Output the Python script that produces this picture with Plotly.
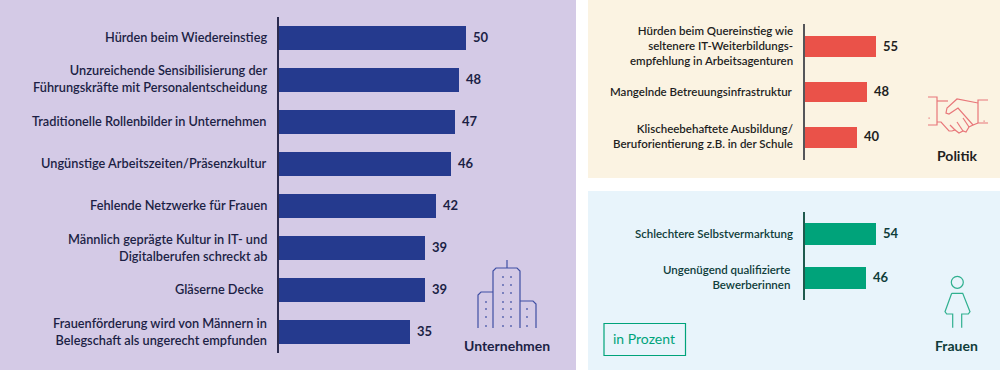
import plotly.graph_objects as go

W, H = 1000, 370
FONT = "Lato"

cats_firm = ["Hürden beim Wiedereinstieg",
             "Unzureichende Sensibilisierung der<br>Führungskräfte mit Personalentscheidung",
             "Traditionelle Rollenbilder in Unternehmen",
             "Ungünstige Arbeitszeiten/Präsenzkultur",
             "Fehlende Netzwerke für Frauen",
             "Männlich geprägte Kultur in IT- und<br>Digitalberufen schreckt ab",
             "Gläserne Decke\u00a0",
             "Frauenförderung wird von Männern in<br>Belegschaft als ungerecht empfunden"]
vals_firm = [50, 48, 47, 46, 42, 39, 39, 35]

cats_pol = ["Hürden beim Quereinstieg wie<br>seltenere IT-Weiterbildungs-<br>empfehlung in Arbeitsagenturen",
            "Mangelnde Betreuungsinfrastruktur",
            "Klischeebehaftete Ausbildung/<br>Beruforientierung z.B. in der Schule"]
vals_pol = [55, 48, 40]

cats_women = ["Schlechtere Selbstvermarktung",
              "Ungenügend qualifizierte\u00a0<br>Bewerberinnen\u00a0"]
vals_women = [54, 46]

TEXT = "#1c1f45"
NAVY = "#253a8e"
RED = "#ea5249"
GREEN = "#00a37a"
DKGREEN = "#0f3d3a"


def px(x):
    return x / W


def py(y):
    return 1 - y / H


def poly(points, color, width=1.2, closed=False):
    d = "M" + " L".join(f"{px(x):.5f},{py(y):.5f}" for x, y in points)
    if closed:
        d += " Z"
    return dict(type="path", xref="paper", yref="paper", path=d,
                line=dict(color=color, width=width), layer="above")


def rect(x0, y0, x1, y1, fill, line=None, lw=0):
    return dict(type="rect", xref="paper", yref="paper", x0=px(x0), x1=px(x1),
                y0=py(y1), y1=py(y0), fillcolor=fill,
                line=dict(color=line or fill, width=lw), layer="below")


fig = go.Figure()
shapes = [rect(0, 0, 576, 370, "#d4cae6"),
          rect(588, 0, 1000, 178, "#fbf3e2"),
          rect(588, 191, 1000, 370, "#e8f4fb")]
annotations = []

panels = [
    ("", "y", cats_firm, vals_firm, NAVY, TEXT, 279, 576, 17, 353, 3.74, 0.55, "#2b2b4f", 12.75, 13),
    ("2", "y2", cats_pol, vals_pol, RED, "#1f1f1f", 805, 1000, 24, 160, 1.295, 0.46, "#55565a", 11.5, 13),
    ("3", "y3", cats_women, vals_women, GREEN, DKGREEN, 805, 1000, 212, 300, 1.32, 0.52, "#1f5a4e", 11.5, 13),
]
layout_axes = {}
for suf, yname, cats, vals, color, tcol, x0, x1, y0, y1, scale, bw, axcol, fs, vs in panels:
    fig.add_trace(go.Bar(
        y=cats, x=vals, orientation="h", xaxis="x" + suf, yaxis=yname,
        marker=dict(color=color, line=dict(width=0)), width=bw,
        hoverinfo="skip", showlegend=False))
    layout_axes["xaxis" + suf] = dict(
        domain=[px(x0), px(x1)], range=[0, (x1 - x0) / scale], visible=False,
        anchor=yname, fixedrange=True)
    layout_axes["yaxis" + suf] = dict(
        domain=[py(y1), py(y0)], anchor="x" + suf, autorange="reversed",
        showline=True, linecolor=axcol, linewidth=1.5, ticks="", showgrid=False,
        showticklabels=False, zeroline=False, fixedrange=True)
    for c, v in zip(cats, vals):
        annotations.append(dict(
            xref="x" + suf, yref=yname, x=0, y=c, text=c, showarrow=False,
            xanchor="right", yanchor="middle", align="right", xshift=-10, yshift=1,
            font=dict(family=FONT, size=fs, color=tcol, weight=600)))
        annotations.append(dict(
            xref="x" + suf, yref=yname, x=v, y=c, text=str(v), showarrow=False,
            xanchor="left", yanchor="middle", xshift=5, yshift=1,
            font=dict(family=FONT, size=vs, color=tcol, weight=700)))

# Building icon
IC = "#3f4fa3"
shapes += [
    poly([(478, 328), (478, 295), (481, 292), (493, 292)], IC),
    poly([(493, 328), (493, 271), (496, 268), (517, 268), (520, 271), (520, 328)], IC),
    poly([(520, 301), (533, 301), (536, 304), (536, 328)], IC),
    poly([(507, 268), (507, 260)], IC),
]
rows = (277, 285, 293, 302, 309, 317, 326)
for x, ys in [(486, rows[3:]), (503, rows), (511, rows), (527, rows[4:])]:
    for y in ys:
        shapes.append(rect(x - .8, y - .8, x + .8, y + .8, IC))

# Handshake icon
HC = "#e8777a"
shapes += [
    poly([(928, 97), (937, 97), (937, 125), (928, 125)], HC),
    poly([(988, 100), (978, 100), (978, 123), (988, 123)], HC),
    poly([(937, 101), (948, 101)], HC),
    poly([(978, 103), (957, 99), (947, 108), (946, 113), (949, 114), (958, 108), (973, 125), (978, 123)], HC),
    poly([(937, 122), (941, 122), (949, 131), (952, 131), (955, 130), (959, 133), (963, 131), (966, 132), (969, 127), (973, 125)], HC),
    poly([(950, 125), (955, 130)], HC),
    poly([(957, 122), (963, 131)], HC),
    poly([(963, 118), (969, 127)], HC),
    rect(928.5, 117.5, 929.7, 118.7, HC),
    rect(983.5, 120.5, 984.7, 121.7, HC),
]

# Woman icon
WC = "#2fb08f"
shapes += [
    dict(type="circle", xref="paper", yref="paper", x0=px(951.3), x1=px(963.3),
         y0=py(288.3), y1=py(276.3), line=dict(color=WC, width=1.2), layer="above"),
    poly([(951.7, 293.3), (962.7, 293.3), (970, 311.7), (968.3, 314), (961.7, 314), (961.7, 327.7)], WC),
    poly([(951.7, 293.3), (945, 311.7), (946.7, 314), (952.7, 314), (952.7, 327.7)], WC),
    rect(604, 323.5, 685.5, 355.5, "rgba(0,0,0,0)", GREEN, 1.2),
]


def label(x, y, t, size, color, weight=700, anchor="center"):
    return dict(xref="paper", yref="paper", x=px(x), y=py(y), text=t, showarrow=False,
                xanchor=anchor, yanchor="middle",
                font=dict(family=FONT, size=size, color=color, weight=weight))


annotations += [
    label(507.5, 345, "Unternehmen", 14, TEXT),
    label(957, 155.2, "Politik", 14, "#1f1f1f"),
    label(956.7, 345.5, "Frauen", 14, DKGREEN),
    label(644.3, 338.5, "in Prozent", 14, GREEN, 400),
]

fig.update_layout(width=W, height=H, margin=dict(l=0, r=0, t=0, b=0), autosize=False,
                  paper_bgcolor="white", plot_bgcolor="rgba(0,0,0,0)", bargap=0,
                  shapes=shapes, annotations=annotations, showlegend=False, **layout_axes)
fig.write_html("out.html", config={"displayModeBar": False},
               post_script="document.body.style.margin='0';")
